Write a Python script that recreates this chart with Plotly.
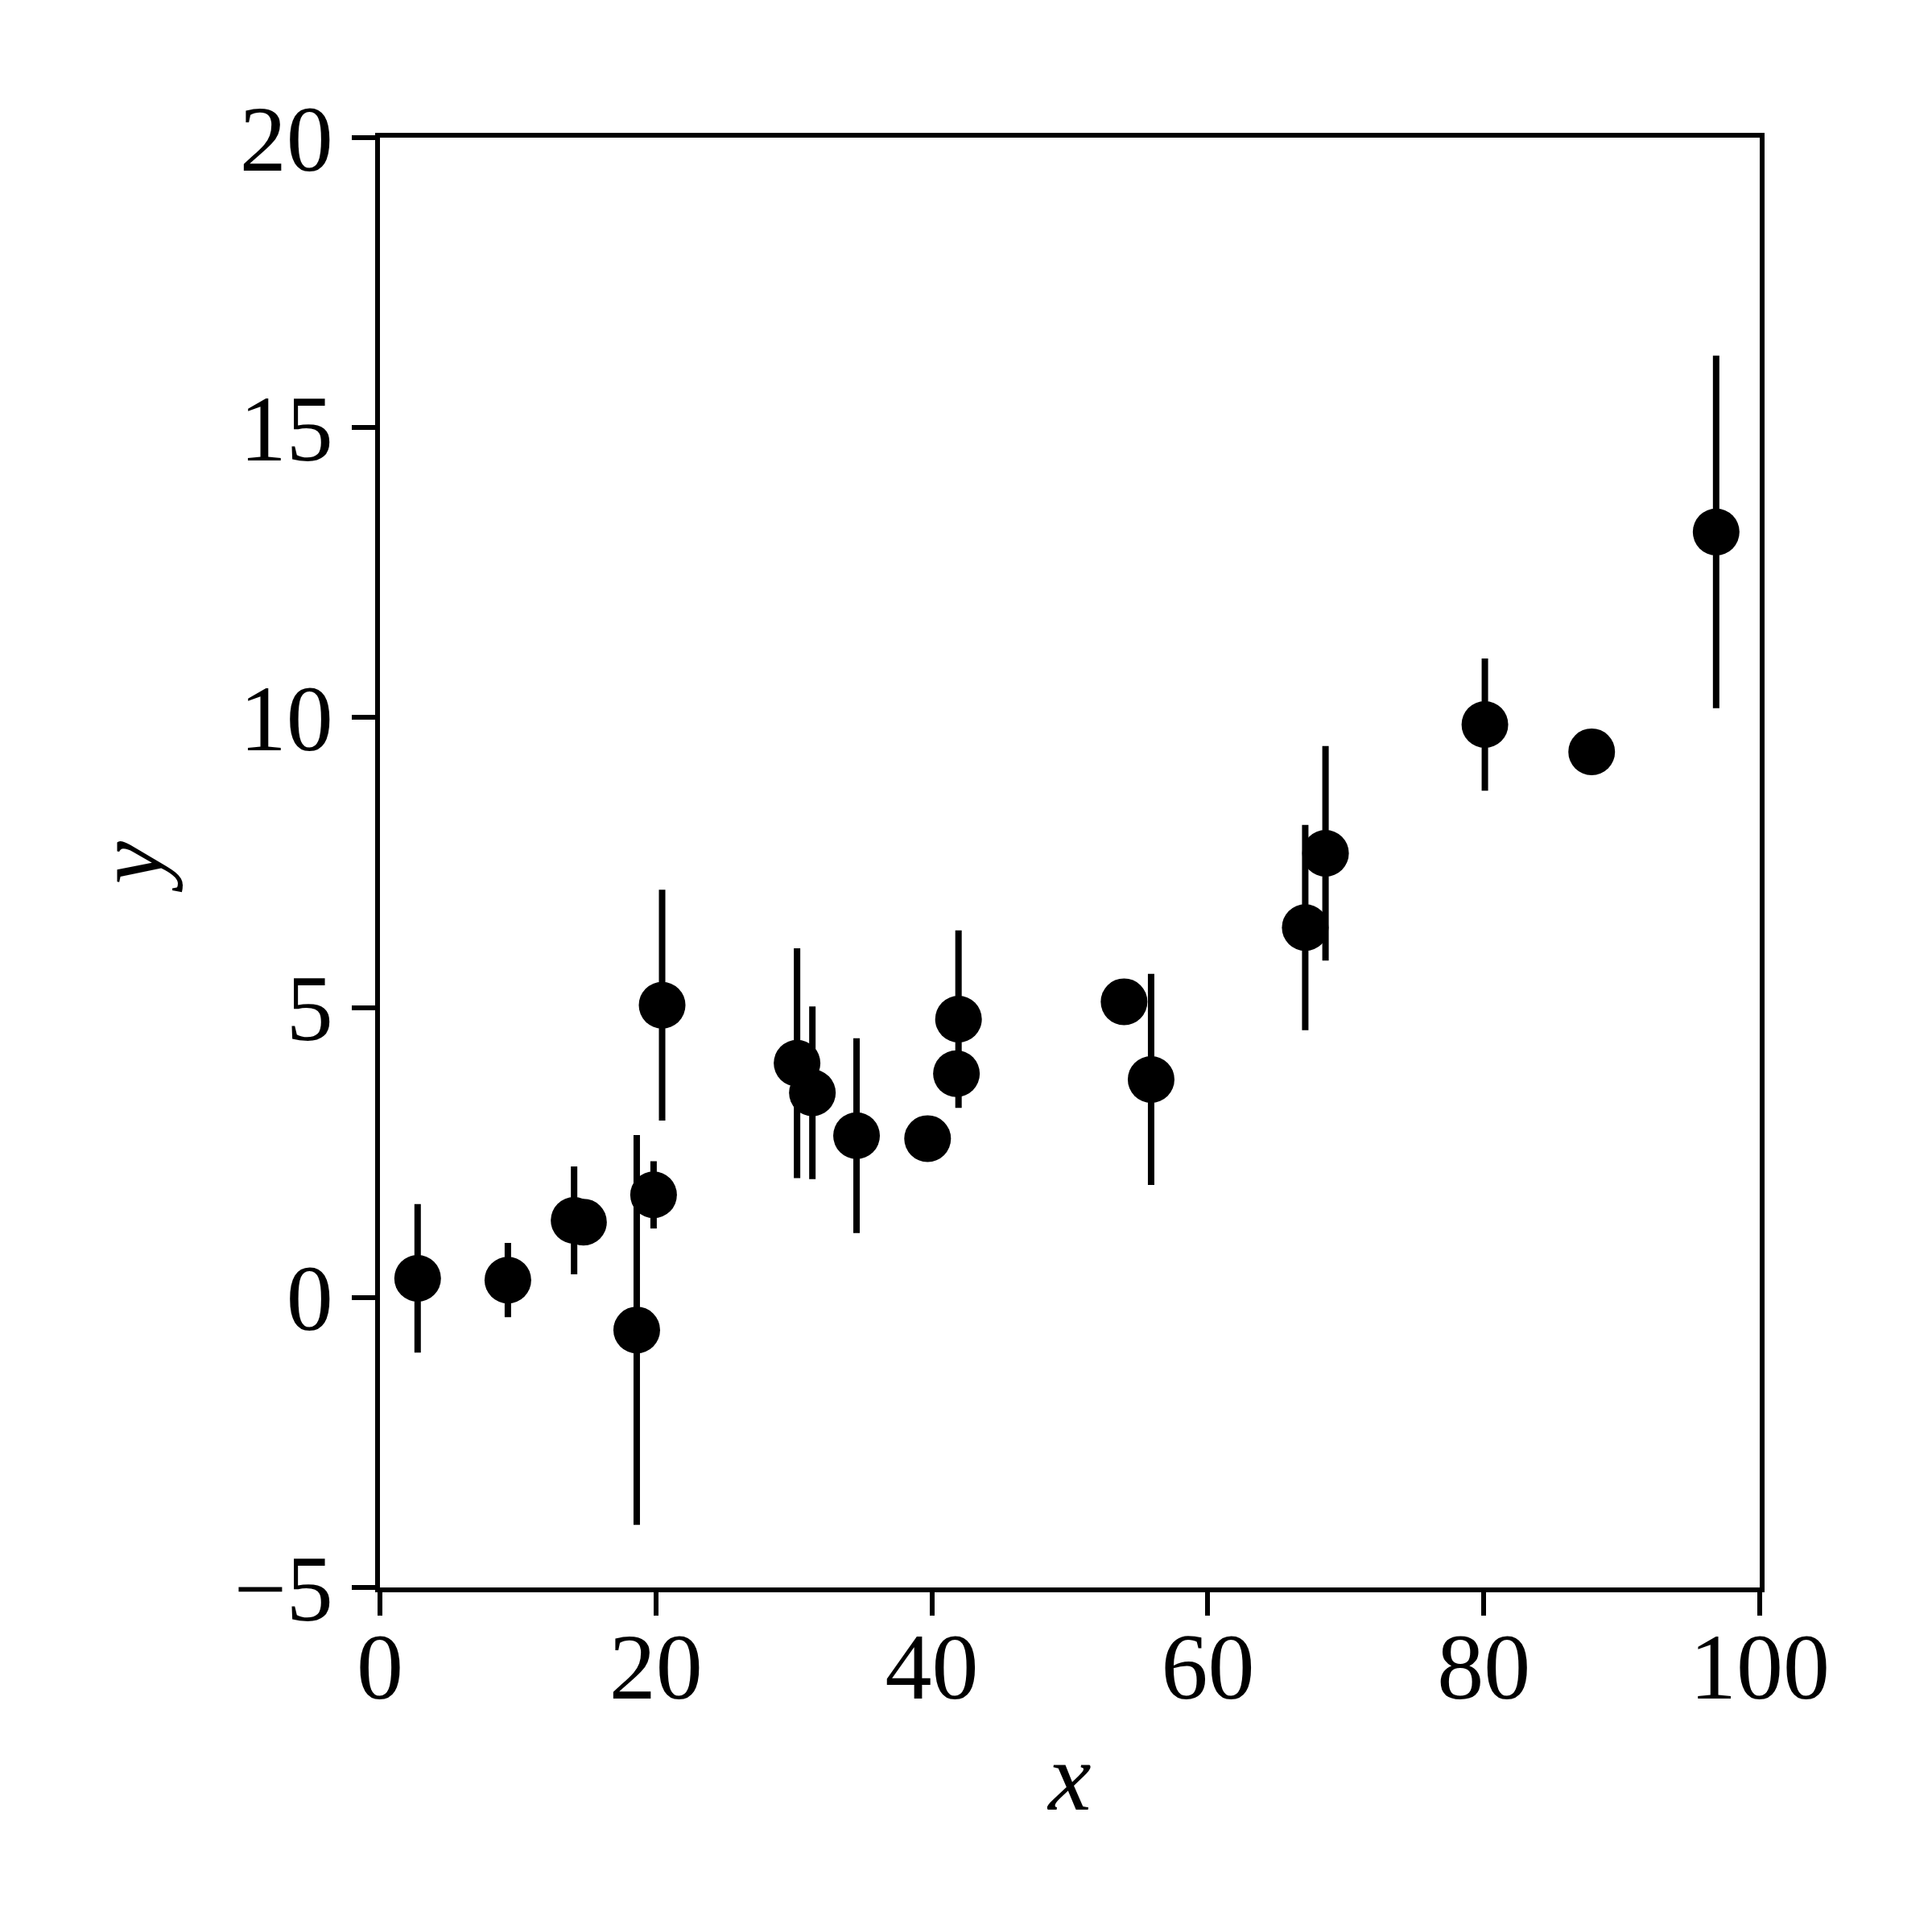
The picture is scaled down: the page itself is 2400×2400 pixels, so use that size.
import plotly.graph_objects as go

x_vals = [2.73, 9.27, 14.07, 14.75, 18.61, 19.83, 20.45, 30.23, 31.34, 34.54,
          39.69, 41.93, 41.78, 53.93, 55.89, 67.06, 68.53, 80.08, 87.82, 96.84]
y_vals = [0.33, 0.30, 1.33, 1.30, -0.56, 1.77, 5.04, 4.04, 3.53, 2.79,
          2.74, 4.80, 3.86, 5.10, 3.76, 6.38, 7.66, 9.88, 9.41, 13.20]
y_err = [1.28, 0.64, 0.93, 0.30, 3.36, 0.58, 1.99, 1.98, 1.49, 1.68,
         0.20, 1.53, 0.30, 0.20, 1.82, 1.77, 1.85, 1.14, 0.20, 3.04]

x_ticks = [0, 20, 40, 60, 80, 100]
y_ticks = [-5, 0, 5, 10, 15, 20]

FONT = "Liberation Serif"

fig = go.Figure()

fig.add_trace(go.Scatter(
    x=x_vals,
    y=y_vals,
    mode='markers',
    marker=dict(color='black', size=58),
    error_y=dict(type='data', array=y_err, visible=True,
                 color='black', thickness=8, width=0),
    showlegend=False,
))

axis_common = dict(
    showline=True,
    linecolor='black',
    linewidth=6,
    mirror=True,
    ticks='outside',
    ticklen=29,
    tickwidth=6,
    tickcolor='black',
    showgrid=False,
    zeroline=False,
    tickfont=dict(family=FONT, size=116, color='black'),
)

fig.update_layout(
    width=2400,
    height=2400,
    paper_bgcolor='white',
    plot_bgcolor='white',
    margin=dict(l=464, r=222, t=163, b=436, autoexpand=False),
    xaxis=dict(
        range=[0, 100],
        tickvals=x_ticks,
        ticklabelstandoff=-36,
        title=dict(text='<i>x</i>', font=dict(family=FONT, size=120, color='black'),
                   standoff=32),
        **axis_common
    ),
    yaxis=dict(
        range=[-5, 20],
        tickvals=y_ticks,
        title=dict(text='<i>y</i>', font=dict(family=FONT, size=120, color='black'),
                   standoff=50),
        **axis_common
    ),
)

fig.write_html("out.html")
